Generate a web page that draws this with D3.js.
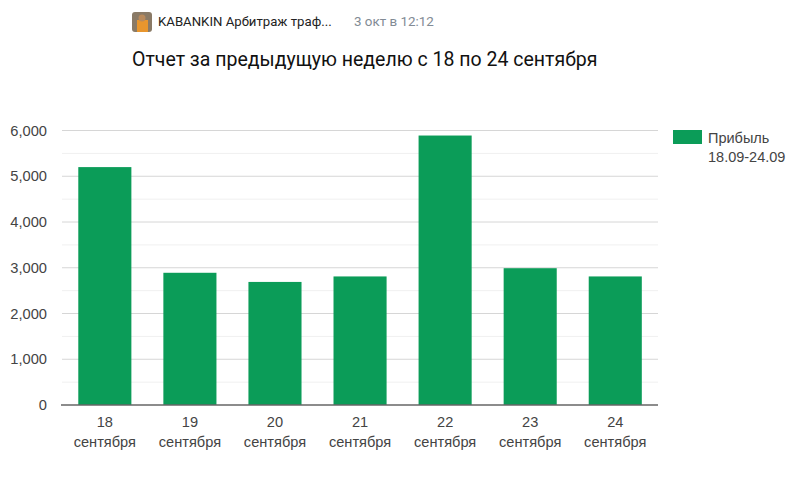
<!DOCTYPE html>
<html><head><meta charset="utf-8">
<style>html,body{margin:0;padding:0;background:#fff}svg{display:block}text{font-family:"Liberation Sans",Arial,sans-serif}</style>
<script src="https://cdn.jsdelivr.net/npm/d3@7"></script></head>
<body><svg id="c" width="800" height="500"></svg>
<script>
const days = ["18","19","20","21","22","23","24"];
const monthLabel = "сентября";
const profit = [5200,2890,2690,2810,5890,2990,2810];
const majorTicks = [0,1000,2000,3000,4000,5000,6000];
const minorTicks = [500,1500,2500,3500,4500,5500];
const legendLines = ["Прибыль","18.09-24.09"];
const title = "Отчет за предыдущую неделю с 18 по 24 сентября";
const author = "KABANKIN Арбитраж траф...";
const dateText = "3 окт в 12:12";

const svg = d3.select("#c");
const x = d3.scaleBand().domain(days).range([62.3,657.8]).paddingInner(0.376).paddingOuter(0.188);
const y = d3.scaleLinear().domain([0,6000]).range([405,130.5]);
const green = "#0b9c58";

// header
const av = svg.append("g");
av.append("rect").attr("x",132).attr("y",12).attr("width",20).attr("height",20).attr("rx",3).attr("fill","#8a7a66");
av.append("rect").attr("x",137).attr("y",20).attr("width",11).attr("height",12).attr("fill","#e8962e");
av.append("circle").attr("cx",142).attr("cy",18).attr("r",3.5).attr("fill","#b98a5c");
svg.append("text").attr("x",158).attr("y",26).attr("font-size",13.2).attr("fill","#222").style("font-family","Roboto").text(author);
svg.append("text").attr("x",354).attr("y",26).attr("font-size",13.4).attr("fill","#828b95").style("font-family","Roboto").text(dateText);
svg.append("text").attr("x",132).attr("y",65.5).attr("font-size",19.5).attr("fill","#111").style("font-family","Roboto").text(title);

// grid
svg.append("g").selectAll("line").data(minorTicks).join("line")
  .attr("x1",62).attr("x2",658).attr("y1",d=>y(d)).attr("y2",d=>y(d))
  .attr("stroke","#f0f0f0").attr("stroke-width",1);
svg.append("g").selectAll("line").data(majorTicks.slice(1)).join("line")
  .attr("x1",62).attr("x2",658).attr("y1",d=>y(d)).attr("y2",d=>y(d))
  .attr("stroke","#d6d6d6").attr("stroke-width",1);

// y axis labels
const yAxis = d3.axisLeft(y).tickValues(majorTicks).tickFormat(d3.format(",")).tickSize(0).tickPadding(14);
const gy = svg.append("g").attr("transform","translate(61,0)").call(yAxis);
gy.select(".domain").remove();
gy.selectAll("text").attr("font-size",14.7).attr("fill","#444").style("font-family","Liberation Sans");

// bars
svg.append("g").selectAll("rect").data(profit).join("rect")
  .attr("x",(d,i)=>x(days[i])).attr("width",x.bandwidth())
  .attr("y",d=>y(d)).attr("height",d=>y(0)-y(d)).attr("fill",green);

// baseline and x labels
const xAxis = d3.axisBottom(x).tickSize(0).tickPadding(0).tickFormat(()=>"");
const gx = svg.append("g").attr("transform","translate(0,405)").call(xAxis);
gx.select(".domain").remove();
gx.selectAll("text").remove();
gx.selectAll(".tick").each(function(d){
  const t = d3.select(this);
  t.append("text").attr("y",22).attr("text-anchor","middle").attr("font-size",14.6).attr("fill","#444").text(d);
  t.append("text").attr("y",42).attr("text-anchor","middle").attr("font-size",14.6).attr("fill","#444").text(monthLabel);
});
svg.append("line").attr("x1",61).attr("x2",658).attr("y1",405).attr("y2",405).attr("stroke","#666").attr("stroke-width",1.4);

// legend
svg.append("rect").attr("x",673).attr("y",130).attr("width",29).attr("height",14).attr("fill",green);
svg.append("g").selectAll("text").data(legendLines).join("text")
  .attr("x",708).attr("y",(d,i)=>143+i*19).attr("font-size",14.5).attr("fill","#444").text(d=>d);
</script></body></html>
